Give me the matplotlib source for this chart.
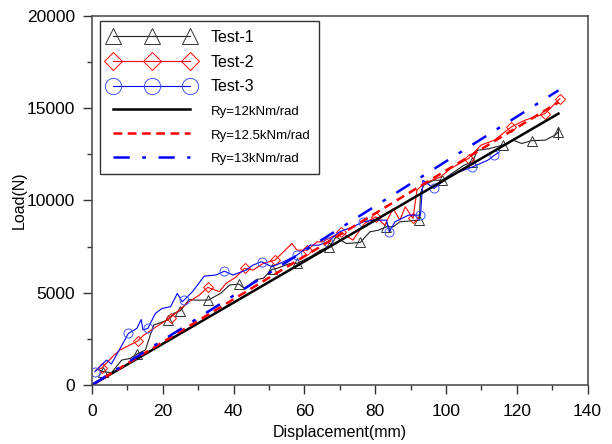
import matplotlib
matplotlib.use("Agg")
import matplotlib.pyplot as plt
from matplotlib.ticker import MultipleLocator

plt.rcParams["font.family"] = ["Liberation Sans", "DejaVu Sans"]

# Test-1 (black, triangles)
x1 = [1.5, 3.2, 5.5, 8.4, 10.8, 12.7, 15.1, 17.4, 21.4, 23.1, 25.0, 27.4, 29.3, 32.9,
      36.5, 38.9, 41.5, 43.1, 46.5, 48.4, 50.8, 52.2, 56.0, 57.9, 61.7, 64.6, 67.0,
      69.0, 71.8, 75.8, 78.5, 80.9, 83.2, 85.1, 87.0, 92.5, 92.8, 93.7, 96.6, 98.9,
      105.1, 107.5, 108.9, 112.0, 116.0, 118.9, 121.4, 124.2, 128.0, 130.8, 131.8,
      131.8, 131.8]
y1 = [850, 722, 668, 1350, 1440, 1680, 1900, 3250, 3520, 3880, 4030, 4630, 4600, 4600,
      4990, 5420, 5470, 5240, 5720, 5780, 6260, 6320, 6590, 6590, 6950, 7310, 7500,
      8030, 7670, 7725, 8300, 8390, 8575, 8575, 8845, 8935, 10380, 10830, 11100, 11100,
      11910, 12100, 12725, 12800, 13000, 13270, 13090, 13240, 13270, 13540, 13720,
      13950, 13300]
m1 = [1, 5, 8, 10, 13, 16, 20, 23, 26, 29, 32, 35, 39, 41, 44, 47, 50]

# Test-2 (red, diamonds)
x2 = [1.2, 2.7, 6.0, 7.9, 9.8, 12.9, 14.6, 18.9, 22.2, 24.6, 27.4, 30.3, 32.7, 36.0,
      37.9, 40.8, 43.1, 45.5, 48.4, 51.7, 56.5, 57.9, 60.8, 63.6, 65.1, 66.9, 70.4,
      73.7, 77.0, 80.2, 82.7, 85.1, 87.0, 88.5, 90.7, 91.8, 93.7, 98.5, 101.3, 106.4,
      109.9, 113.7, 118.5, 122.3, 128.0, 130.8, 132.2]
y2 = [812, 903, 1570, 1900, 2080, 2380, 2700, 3250, 3650, 4060, 4510, 4870, 5290, 5060,
      5510, 5870, 6320, 6230, 6590, 6770, 7670, 7310, 7310, 7760, 7760, 7940, 8300,
      7850, 8755, 9115, 8665, 9565, 8935, 9655, 9025, 10560, 10920, 11280, 11730, 12275,
      13000, 13270, 13990, 14350, 14710, 15250, 15520]
m2 = [1, 5, 8, 12, 16, 19, 22, 26, 29, 34, 39, 42, 44, 46]

# Test-3 (blue, circles)
x3 = [0.8, 4.1, 5.5, 10.3, 12.7, 13.9, 14.4, 15.8, 17.9, 19.8, 22.2, 24.1, 25.5, 26.0,
      28.4, 31.7, 35.0, 37.4, 39.8, 43.6, 45.5, 47.9, 50.8, 53.6, 57.9, 61.7, 64.1,
      66.6, 69.9, 73.7, 76.6, 79.4, 83.2, 84.0, 85.6, 89.4, 92.8, 93.5, 96.6, 101.3,
      107.5, 111.8, 113.7, 115.1]
y3 = [722, 1354, 1137, 2798, 3070, 3550, 2980, 3070, 3880, 4150, 4240, 4960, 4510, 4600,
      5060, 5900, 5960, 6170, 5960, 6230, 6500, 6680, 6410, 6630, 7040, 7580, 7580,
      7760, 8300, 8570, 8845, 8935, 8935, 8300, 8845, 9205, 9205, 11100, 10650, 11370,
      11820, 12180, 12455, 12635]
m3 = [0, 3, 7, 13, 17, 21, 24, 27, 30, 33, 36, 38, 40, 42]

# reference lines (linear stiffness)
x_ref = [0, 131.8]
y_12 = [0, 14710]
y_125 = [0, 15320]
y_13 = [0, 15970]

fig = plt.figure(figsize=(6.12, 4.44), dpi=100)
ax = fig.add_axes([0.1503, 0.1329, 0.8097, 0.8311])

ms = 6.5
ax.plot(x1, y1, color="#222222", lw=0.8, marker="^", ms=ms, mfc="none", mec="#333333",
        mew=0.7, markevery=m1, label="Test-1")
ax.plot(x2, y2, color="red", lw=0.8, marker="D", ms=ms - 1.5, mfc="none", mec="red",
        mew=0.7, markevery=m2, label="Test-2")
ax.plot(x3, y3, color="blue", lw=0.8, marker="o", ms=ms, mfc="none", mec="#4455ff",
        mew=0.7, markevery=m3, label="Test-3")

ax.plot(x_ref, y_12, color="black", lw=1.8, label="Ry=12kNm/rad")
ax.plot(x_ref, y_125, color="red", lw=1.8, ls=(0, (3.5, 2.2)), label="Ry=12.5kNm/rad")
ax.plot(x_ref, y_13, color="blue", lw=1.8, ls=(0, (6.5, 5, 1.5, 5)), label="Ry=13kNm/rad")

ax.set_xlim(0, 140)
ax.set_ylim(0, 20000)
ax.xaxis.set_major_locator(MultipleLocator(20))
ax.xaxis.set_minor_locator(MultipleLocator(10))
ax.yaxis.set_major_locator(MultipleLocator(5000))
ax.yaxis.set_minor_locator(MultipleLocator(2500))
ax.tick_params(which="both", direction="out", top=False, right=False, labelsize=12.5,
               color="#333333")
ax.tick_params(which="major", length=6.5, width=1.0, pad=5.5)
ax.tick_params(axis="x", which="major", pad=7.5)
ax.tick_params(which="minor", length=3.5, width=1.0)
for s in ax.spines.values():
    s.set_color("#444444")
    s.set_linewidth(1.1)

ax.set_xlabel("Displacement(mm)", fontsize=11.5, labelpad=4)
ax.set_ylabel("Load(N)", fontsize=11.5, labelpad=0)

leg = ax.legend(loc="upper left", bbox_to_anchor=(0.016, 0.986), borderaxespad=0,
                numpoints=3, handlelength=5.4, markerscale=1.8, fontsize=11.5,
                fancybox=False, edgecolor="#333333", framealpha=1, labelspacing=0.6,
                borderpad=0.55, handletextpad=1.0)
leg.get_frame().set_linewidth(1.0)
for t in leg.get_texts()[3:]:
    t.set_fontsize(9.5)

plt.savefig("out.png", dpi=100)
